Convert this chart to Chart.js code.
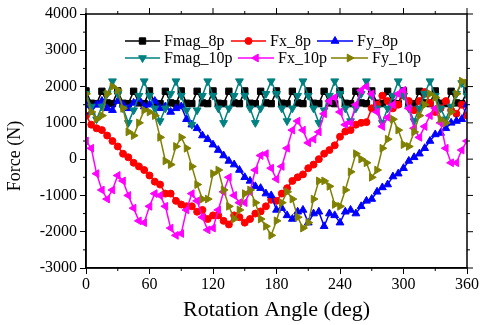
<!DOCTYPE html>
<html>
<head>
<meta charset="utf-8">
<script src="https://cdn.jsdelivr.net/npm/chart.js@4.4.0/dist/chart.umd.min.js"></script>
<style>
html, body { margin: 0; padding: 0; background: #fff; }
#wrap { width: 480px; height: 325px; }
</style>
</head>
<body>
<div id="wrap"><canvas id="forceChart" width="480" height="325"></canvas></div>
<script>
// rotation angle (deg)
var angle = [0, 5, 10, 15, 20, 25, 30, 35, 40, 45, 50, 55, 60, 65, 70, 75, 80, 85, 90,
	95, 100, 105, 110, 115, 120, 125, 130, 135, 140, 145, 150, 155, 160, 165, 170, 175, 180,
	185, 190, 195, 200, 205, 210, 215, 220, 225, 230, 235, 240, 245, 250, 255, 260, 265, 270,
	275, 280, 285, 290, 295, 300, 305, 310, 315, 320, 325, 330, 335, 340, 345, 350, 355, 360];

// force values (N)
var fmag8p = [1880, 1540, 1530, 1870, 1550, 1530, 1880, 1540, 1530, 1870, 1550, 1530, 1880,
	1540, 1530, 1870, 1550, 1530, 1880, 1540, 1530, 1870, 1550, 1530, 1880, 1540, 1530, 1870,
	1550, 1530, 1880, 1540, 1530, 1870, 1550, 1530, 1880, 1540, 1530, 1870, 1550, 1530, 1880,
	1540, 1530, 1870, 1550, 1530, 1880, 1540, 1530, 1870, 1550, 1530, 1880, 1540, 1530, 1870,
	1550, 1530, 1880, 1540, 1530, 1870, 1550, 1530, 1880, 1540, 1530, 1870, 1550, 1530, 1880];
var fx8p = [1200, 950, 850, 800, 650, 500, 350, 150, 50, -100, -200, -300, -450, -620, -700,
	-950, -950, -1150, -1250, -1300, -1300, -1450, -1400, -1650, -1550, -1550, -1700, -1800,
	-1550, -1600, -1750, -1650, -1500, -1440, -1300, -1120, -1150, -950, -800, -600, -500, -420,
	-250, -150, 0, 150, 250, 380, 620, 760, 800, 950, 1000, 1020, 1400, 1500, 1750, 1600, 1400,
	1500, 1800, 1600, 1350, 1600, 1850, 1550, 1300, 1400, 1600, 1350, 1250, 1500, 1200];
var fy8p = [1500, 1300, 1500, 1600, 1400, 1350, 1600, 1500, 1400, 1550, 1650, 1450, 1500,
	1600, 1400, 1450, 1300, 1400, 1450, 1100, 950, 850, 650, 550, 400, 250, 100, -50, -150,
	-300, -500, -600, -750, -800, -950, -1000, -1400, -1350, -1550, -1650, -1450, -1400, -1750,
	-1500, -1450, -1850, -1500, -1550, -1750, -1450, -1400, -1500, -1300, -1150, -1100, -900,
	-780, -700, -480, -400, -250, -50, 50, 150, 300, 500, 680, 720, 850, 1000, 1050, 1100, 1500];
var fmag10p = [1800, 1450, 1100, 1450, 1800, 2150, 1800, 1400, 1000, 1350, 1750, 2150, 1750,
	1400, 1050, 1400, 1800, 2150, 1750, 1350, 950, 1350, 1750, 2150, 1750, 1400, 1000, 1400,
	1750, 2150, 1750, 1400, 1000, 1400, 1800, 2150, 1800, 1400, 1050, 1400, 1750, 2150, 1750,
	1400, 1000, 1350, 1750, 2150, 1800, 1400, 1050, 1400, 1800, 2150, 1750, 1400, 1000, 1400,
	1750, 2150, 1750, 1400, 1050, 1400, 1800, 2150, 1750, 1400, 1100, 1450, 1800, 2100, 1750];
var fx10p = [500, 300, -400, -850, -1100, -850, -450, -600, -1000, -1350, -1700, -1750, -1300,
	-950, -1000, -1300, -1900, -2100, -2050, -1400, -950, -1150, -1600, -1950, -1900, -1400,
	-900, -500, -1000, -1200, -1200, -900, -300, 100, 150, -250, -550, -200, 300, 800, 1050,
	800, 450, 550, 750, 1250, 1600, 1700, 1300, 950, 1000, 1500, 1900, 2000, 1800, 1300, 900,
	1150, 1500, 1800, 1900, 1400, 850, 600, 900, 1200, 1400, 1000, 300, -100, -100, 250, 500];
var fy10p = [1800, 1300, 1100, 1200, 1800, 2000, 1900, 1400, 750, 650, 1000, 1350, 1300, 1200,
	600, -50, -150, 350, 600, 300, -200, -700, -1100, -1100, -400, -300, -850, -1300, -1650,
	-1400, -950, -850, -1200, -1650, -1850, -2100, -1700, -1200, -900, -1100, -1600, -1900,
	-1750, -1100, -600, -600, -750, -1250, -1300, -850, -350, 150, 0, -100, -500, -300, 300,
	550, 1100, 800, 400, 350, 750, 1200, 1500, 1800, 1700, 1100, 1000, 1300, 1800, 2150, 2100];

var seriesNames = ['Fmag_8p', 'Fx_8p', 'Fy_8p', 'Fmag_10p', 'Fx_10p', 'Fy_10p'];
var xTicks = [0, 60, 120, 180, 240, 300, 360];
var yTicks = [-3000, -2000, -1000, 0, 1000, 2000, 3000, 4000];
var yTitle = 'Force (N)';

var serif = "'Liberation Serif', 'Times New Roman', serif";

// 범례 위치 (선 시작, 선 끝, y)
var legendPos = [[125, 160, 41], [231, 266, 41], [317, 353, 41],
	[125, 160, 58], [238, 274, 58], [331, 368, 58]];

function makeSet(i, data, color, style, rot, r) {
	return {
		label: seriesNames[i],
		data: data,
		borderColor: color,
		backgroundColor: color,
		borderWidth: 1.5,
		pointStyle: style,
		rotation: rot,
		pointRadius: r,
		pointBorderWidth: 1,
		pointBackgroundColor: color,
		pointBorderColor: color,
		tension: 0,
		clip: 0,
		order: 5 - i // 나중 계열이 위에 그려지도록
	};
}

// 보조 눈금, 위/오른쪽 축, 범례, y축 제목 그리기
var framePlugin = {
	id: 'frame',
	afterDatasetsDraw: function(chart) {
		var ctx = chart.ctx;
		var a = chart.chartArea;
		var xs = chart.scales.x, ys = chart.scales.y;
		ctx.save();
		ctx.strokeStyle = '#000';
		ctx.lineWidth = 1.5;
		ctx.strokeRect(a.left, a.top, a.right - a.left, a.bottom - a.top);
		ctx.lineWidth = 1;
		ctx.beginPath();
		var i, p;
		for (i = 0; i < xTicks.length; i++) {
			p = xs.getPixelForValue(xTicks[i]);
			ctx.moveTo(p, a.top); ctx.lineTo(p, a.top - 6);
			if (i < xTicks.length - 1) {
				p = xs.getPixelForValue((xTicks[i] + xTicks[i + 1]) / 2);
				ctx.moveTo(p, a.bottom); ctx.lineTo(p, a.bottom + 3);
				ctx.moveTo(p, a.top); ctx.lineTo(p, a.top - 3);
			}
		}
		for (i = 0; i < yTicks.length; i++) {
			p = ys.getPixelForValue(yTicks[i]);
			ctx.moveTo(a.right, p); ctx.lineTo(a.right + 6, p);
			if (i < yTicks.length - 1) {
				p = ys.getPixelForValue((yTicks[i] + yTicks[i + 1]) / 2);
				ctx.moveTo(a.left, p); ctx.lineTo(a.left - 3, p);
				ctx.moveTo(a.right, p); ctx.lineTo(a.right + 3, p);
			}
		}
		ctx.stroke();

		// legend
		ctx.font = '16px ' + serif;
		ctx.textBaseline = 'middle';
		ctx.textAlign = 'left';
		chart.data.datasets.forEach(function(ds, k) {
			var lp = legendPos[k];
			ctx.strokeStyle = ds.borderColor;
			ctx.fillStyle = ds.borderColor;
			ctx.lineWidth = 1.5;
			ctx.beginPath();
			ctx.moveTo(lp[0], lp[2]); ctx.lineTo(lp[1], lp[2]);
			ctx.stroke();
			ctx.lineWidth = 1;
			Chart.helpers.drawPoint(ctx, {
				pointStyle: ds.pointStyle, radius: ds.pointRadius,
				rotation: ds.rotation, borderWidth: 1
			}, (lp[0] + lp[1]) / 2, lp[2]);
			ctx.fillStyle = '#000';
			ctx.fillText(ds.label, lp[1] + 4, lp[2] + 1);
		});

		// y축 제목 (조금 아래쪽에 위치)
		ctx.translate(15, 156);
		ctx.rotate(-Math.PI / 2);
		ctx.font = '18px ' + serif;
		ctx.textAlign = 'center';
		ctx.fillStyle = '#000';
		ctx.fillText(yTitle, 0, 0);
		ctx.restore();
	}
};

const ctxF = document.getElementById('forceChart');

var forceChart = new Chart(ctxF, {
	type: 'line',
	data: {
		labels: angle,
		datasets: [
			makeSet(0, fmag8p, '#000000', 'rect', 0, 4.5),
			makeSet(1, fx8p, '#ff0000', 'circle', 0, 3.5),
			makeSet(2, fy8p, '#0000ff', 'triangle', 0, 4.5),
			makeSet(3, fmag10p, '#008080', 'triangle', 180, 4.5),
			makeSet(4, fx10p, '#ff00ff', 'triangle', 270, 4.5),
			makeSet(5, fy10p, '#808000', 'triangle', 90, 4.5)
		]
	},
	options: {
		responsive: false,
		animation: false,
		devicePixelRatio: 1,
		layout: { padding: { top: 14, right: 13, left: 0, bottom: 0 } },
		plugins: {
			legend: { display: false },
			tooltip: { enabled: false }
		},
		scales: {
			x: {
				type: 'linear',
				min: 0,
				max: 360,
				afterBuildTicks: function(s) { s.ticks = xTicks.map(v => ({ value: v })); },
				afterFit: function(s) { s.height = 57; },
				grid: { drawOnChartArea: false, drawTicks: true, tickLength: 6, color: '#000', lineWidth: 1 },
				border: { display: true, color: '#000', width: 1.5 },
				ticks: {
					color: '#000', padding: 1, maxRotation: 0,
					font: { family: serif, size: 16 },
					callback: function(v) { return String(v); }
				},
				title: {
					display: true,
					text: 'Rotation Angle (deg)',
					color: '#000',
					padding: { top: 0, bottom: 2 },
					font: { family: serif, size: 22 }
				}
			},
			y: {
				type: 'linear',
				min: -3000,
				max: 4000,
				afterBuildTicks: function(s) { s.ticks = yTicks.map(v => ({ value: v })); },
				afterFit: function(s) { s.width = 86; },
				grid: { drawOnChartArea: false, drawTicks: true, tickLength: 6, color: '#000', lineWidth: 1 },
				border: { display: true, color: '#000', width: 1.5 },
				ticks: {
					color: '#000', padding: 3,
					font: { family: serif, size: 16 },
					callback: function(v) { return String(v); }
				},
				title: { display: false }
			}
		}
	},
	plugins: [framePlugin]
});
</script>
</body>
</html>
